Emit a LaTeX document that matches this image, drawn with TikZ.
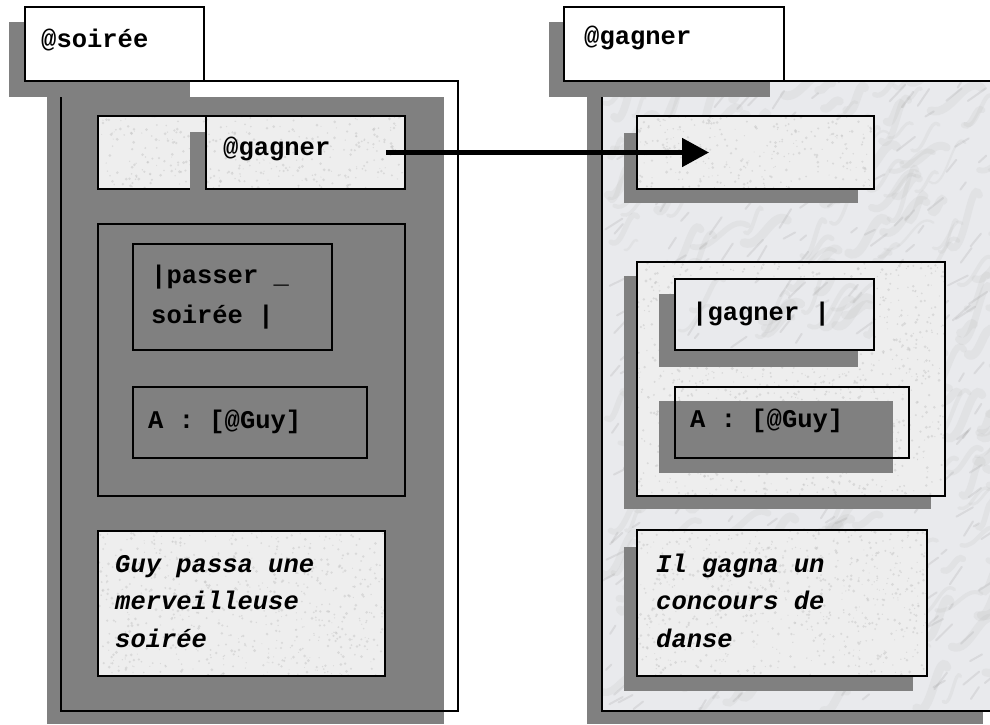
\documentclass[tikz,border=0pt]{standalone}
\usepackage{fontspec}
\setmainfont{Liberation Mono}
\usetikzlibrary{arrows.meta,calc}

\definecolor{shadowgray}{HTML}{808080}
\definecolor{granite}{HTML}{EEEEEE}
\definecolor{marblebase}{HTML}{E9EAED}

\tikzset{
  boxline/.style={draw=black, line width=2pt, anchor=north west, inner sep=0pt, outer sep=0pt},
  titlebox/.style={boxline, fill=white},
  backdrop/.style={fill=shadowgray, draw=none},
  % multi-line texts are placed by the baseline of their last line
  tag/.style={anchor=base west, inner sep=0pt, align=left,
    font=\bfseries\fontsize{25.5}{40}\selectfont},
  sentence/.style={anchor=base west, inner sep=0pt, align=left,
    font=\bfseries\itshape\fontsize{25.5}{37.5}\selectfont},
  link/.style={line width=5pt, -{Triangle[length=27pt,width=28pt]}}
}

% rectangle node from its top-left and bottom-right corners
\newcommand\rectnode[6]{%
  \node[#1, minimum width=\fpeval{#4-#2}pt, minimum height=\fpeval{#5-#3}pt]
    (#6) at (#2,#3) {};}

% speckled paper fill
\newcommand\granitefill[4]{%
  \fill[granite] (#1,#2) rectangle (#3,#4);
  \begin{scope}
    \clip (#1,#2) rectangle (#3,#4);
    \edef\gn{\fpeval{trunc((#3-#1)*(#4-#2)/60)}}
    \foreach \k in {1,...,\gn}{%
      \pgfmathsetmacro\gx{#1+rnd*(#3-#1)}
      \pgfmathsetmacro\gy{#2+rnd*(#4-#2)}
      \pgfmathsetmacro\gr{0.5+rnd*1.1}
      \fill[gray!45, opacity=0.5] (\gx,\gy) circle[radius=\gr];
    }
  \end{scope}}

% veined marble fill
\newcommand\marblefill[4]{%
  \fill[marblebase] (#1,#2) rectangle (#3,#4);
  \begin{scope}
    \clip (#1,#2) rectangle (#3,#4);
    \edef\mn{\fpeval{trunc((#3-#1)*(#4-#2)/900)}}
    \foreach \k in {1,...,\mn}{%
      \pgfmathsetmacro\mx{#1+rnd*(#3-#1)}
      \pgfmathsetmacro\my{#2+rnd*(#4-#2)}
      \pgfmathsetmacro\ml{15+rnd*45}
      \pgfmathsetmacro\ma{-(20+rnd*40)}
      \pgfmathsetmacro\mw{2+rnd*7}
      \draw[gray!60, opacity=0.14, line width=\mw pt, line cap=round]
        (\mx,\my) to[out=\ma+8, in=\ma+172] ++(\ma:\ml);
    }
    \foreach \k in {1,...,\mn}{%
      \pgfmathsetmacro\mx{#1+rnd*(#3-#1)}
      \pgfmathsetmacro\my{#2+rnd*(#4-#2)}
      \pgfmathsetmacro\ml{6+rnd*18}
      \pgfmathsetmacro\ma{-(25+rnd*35)}
      \draw[gray!80, opacity=0.2, line width=2pt, line cap=round]
        (\mx,\my) -- ++(\ma:\ml);
    }
  \end{scope}}

\begin{document}
\begin{tikzpicture}[x=1pt, y=-1pt]
\pgfmathsetseed{4711}
\useasboundingbox (0,0) rectangle (990,724);
\fill[white] (0,0) rectangle (990,724);

% ---------------- left concept: @soirée ----------------
\fill[backdrop] (47,97) rectangle (444,724);
\rectnode{boxline}{61}{81}{458}{711}{lframe}
\fill[backdrop] (9,22) rectangle (190,97);
\rectnode{titlebox}{25}{7}{204}{81}{ltitle}
\node[tag] (ltitletext) at (41,47) {@soirée};

% referent slot and @gagner reference
\granitefill{98}{116}{250}{189}
\rectnode{boxline}{98}{116}{250}{189}{lblank}
\fill[backdrop] (190,132) rectangle (389,205);
\granitefill{206}{116}{405}{189}
\rectnode{boxline}{206}{116}{405}{189}{lgag}
\node[tag] (lgagtext) at (223,155) {@gagner};

% semantic frame
\rectnode{boxline}{98}{224}{405}{496}{lsem}
\rectnode{boxline}{133}{244}{332}{350}{lpred}
\node[tag] (lpredtext) at (151,323) {|passer \_\\soirée |};
\rectnode{boxline}{133}{387}{367}{458}{larg}
\node[tag] (largtext) at (148,428) {A : [@Guy]};

% sentence
\granitefill{98}{531}{385}{676}
\rectnode{boxline}{98}{531}{385}{676}{lsent}
\node[sentence] (lsenttext) at (115,647) {Guy passa une\\merveilleuse\\soirée};

% ---------------- right concept: @gagner ----------------
\fill[backdrop] (587,97) rectangle (983,724);
\marblefill{602}{81}{997}{711}
\rectnode{boxline}{602}{81}{997}{711}{rframe}
\fill[backdrop] (549,22) rectangle (770,97);
\rectnode{titlebox}{564}{7}{784}{81}{rtitle}
\node[tag] (rtitletext) at (584,44) {@gagner};

% referent slot
\fill[backdrop] (624,133) rectangle (858,203);
\granitefill{637}{116}{874}{189}
\rectnode{boxline}{637}{116}{874}{189}{rtop}

% semantic frame
\fill[backdrop] (624,276) rectangle (931,509);
\granitefill{637}{262}{945}{496}
\rectnode{boxline}{637}{262}{945}{496}{rsem}
\fill[backdrop] (659,294) rectangle (858,367);
\marblefill{675}{279}{874}{350}
\rectnode{boxline}{675}{279}{874}{350}{rpred}
\node[tag] (rpredtext) at (692,320) {|gagner |};
\fill[backdrop] (659,401) rectangle (893,473);
\rectnode{boxline}{675}{387}{909}{458}{rarg}
\node[tag] (rargtext) at (690,427) {A : [@Guy]};

% sentence
\fill[backdrop] (624,547) rectangle (913,691);
\granitefill{637}{530}{927}{676}
\rectnode{boxline}{637}{530}{927}{676}{rsent}
\node[sentence] (rsenttext) at (656,647) {Il gagna un\\concours de\\danse};

% reference link
\draw[link] ([xshift=-19pt]lgag.east) -- ([xshift=72pt]rtop.west);
\end{tikzpicture}
\end{document}
